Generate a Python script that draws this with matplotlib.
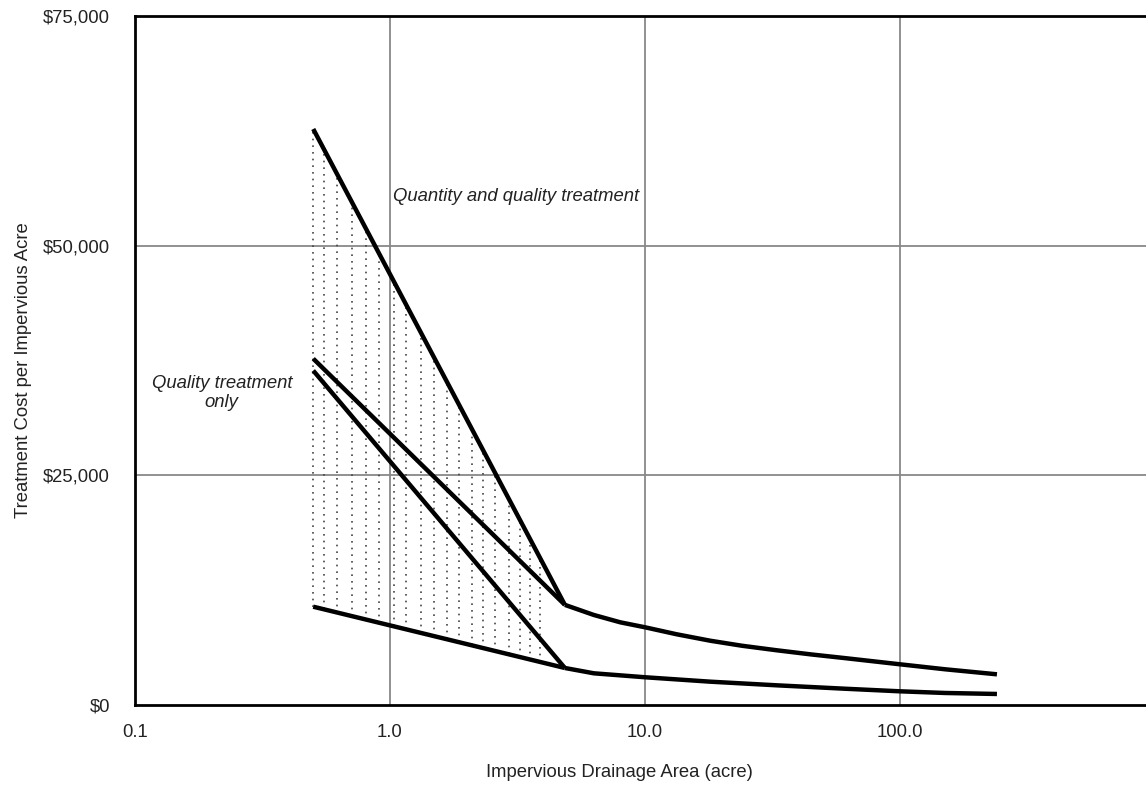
import numpy as np
import matplotlib
matplotlib.use('Agg')
import matplotlib.pyplot as plt
from matplotlib.ticker import FixedLocator

plt.rcParams['font.family'] = ['Liberation Sans', 'DejaVu Sans']

#DATA
# drainage area (acre) for the straight segments, small sites
area_small = [0.5, 4.85]
qq_high = [62700, 10900]      # quantity and quality, upper bound
q_high = [37700, 10900]       # quality only, upper bound
q_low = [36400, 4030]         # quality only, lower bound
qq_low = [10700, 4030]        # lower bound of whole band

# larger sites, curved part
area_large_high = [4.85, 6.3, 8, 10, 13.3, 18, 24, 33, 45, 61, 100, 150, 240]
large_high = [10900, 9800, 9000, 8460, 7700, 7000, 6450, 5950, 5500, 5100, 4430, 3890, 3340]
area_large_low = [4.85, 6.3, 10, 18, 33, 61, 100, 150, 240]
large_low = [4030, 3450, 3020, 2540, 2140, 1770, 1490, 1310, 1200]

# x positions of the vertical dotted shading lines
shade_x = [0.5, 0.552, 0.621, 0.711, 0.806, 0.906, 1.04, 1.16, 1.32, 1.49,
           1.67, 1.86, 2.09, 2.31, 2.59, 2.92, 3.22, 3.55, 3.86]

yticks = [0, 25000, 50000, 75000]
ytick_labels = ['$0', '$25,000', '$50,000', '$75,000']
xticks = [0.1, 1, 10, 100]
xtick_labels = ['0.1', '1.0', '10.0', '100.0']

FS = 13.3
TXT = '#222222'

#FIGURE
fig = plt.figure(figsize=(11.46, 7.85), dpi=100)
ax = fig.add_axes([135/1146, 80/785, 1020/1146, 689/785])
ax.set_xscale('log')
ax.set_xlim(0.1, 1000)
ax.set_ylim(0, 75000)

# dotted shading between upper and lower bound
logx = np.log10(area_small)
for xs in shade_x:
    top = np.interp(np.log10(xs), logx, qq_high)
    bot = np.interp(np.log10(xs), logx, qq_low)
    ax.plot([xs, xs], [bot, top], color='#444444', lw=1.2,
            linestyle=(0, (1, 3)), zorder=1)

lw = 3.2
for ys in [qq_high, q_high, q_low, qq_low]:
    ax.plot(area_small, ys, color='black', lw=lw, zorder=3, solid_capstyle='butt')
ax.plot(area_large_high, large_high, color='black', lw=lw, zorder=3, solid_capstyle='butt')
ax.plot(area_large_low, large_low, color='black', lw=lw, zorder=3, solid_capstyle='butt')

# grid
for gx in [1, 10, 100]:
    ax.axvline(gx, color='#888888', lw=1.3, zorder=0)
for gy in [25000, 50000]:
    ax.axhline(gy, color='#888888', lw=1.3, zorder=0)

ax.xaxis.set_major_locator(FixedLocator(xticks))
ax.xaxis.set_minor_locator(FixedLocator([]))
ax.set_xticklabels(xtick_labels)
ax.set_yticks(yticks)
ax.set_yticklabels(ytick_labels)
ax.tick_params(axis='both', length=0, labelsize=FS, labelcolor=TXT)
ax.tick_params(axis='x', pad=14)
ax.tick_params(axis='y', pad=18)

for s in ['left', 'top', 'bottom']:
    ax.spines[s].set_linewidth(2)
    ax.spines[s].set_color('black')
ax.spines['right'].set_visible(False)

ax.set_xlabel('Impervious Drainage Area (acre)', fontsize=FS, color=TXT)
ax.xaxis.set_label_coords(0.4745, -0.085)
ax.set_ylabel('Treatment Cost per Impervious Acre', fontsize=FS, color=TXT)
ax.yaxis.set_label_coords(-0.101, 0.486)

ax.text(1.03, 55300, 'Quantity and quality treatment', fontsize=FS,
        style='italic', color=TXT, ha='left', va='center')
ax.text(0.219, 33960, 'Quality treatment\nonly', fontsize=FS, style='italic',
        color=TXT, ha='center', va='center', multialignment='center',
        linespacing=1.1)

fig.savefig('out.png', dpi=100)
